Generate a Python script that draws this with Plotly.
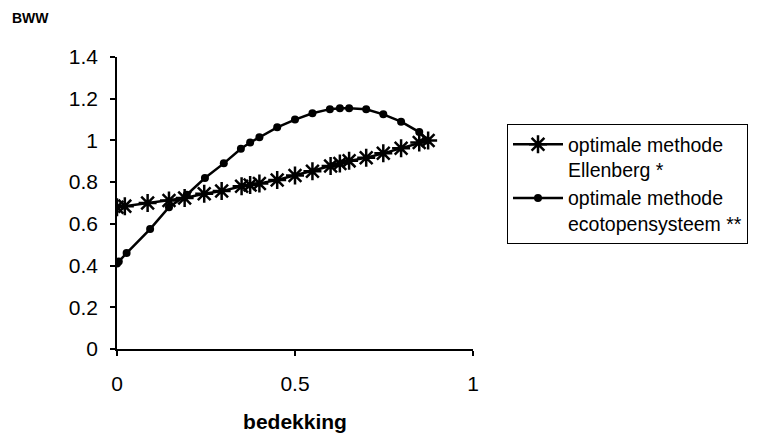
import plotly.graph_objects as go

# Data
x_ellenberg = [0.0, 0.022, 0.086, 0.146, 0.19, 0.245, 0.294, 0.35, 0.374, 0.40, 0.45,
               0.50, 0.549, 0.60, 0.626, 0.652, 0.70, 0.748, 0.798, 0.849, 0.874]
y_ellenberg = [0.68, 0.685, 0.70, 0.712, 0.724, 0.744, 0.757, 0.78, 0.786, 0.794, 0.81,
               0.832, 0.852, 0.877, 0.889, 0.902, 0.917, 0.938, 0.963, 0.99, 1.0]

x_ecotoop = [0.0, 0.005, 0.027, 0.093, 0.146, 0.196, 0.247, 0.30, 0.348, 0.374, 0.40,
             0.45, 0.50, 0.549, 0.598, 0.626, 0.652, 0.70, 0.748, 0.798, 0.849, 0.87]
y_ecotoop = [0.41, 0.42, 0.46, 0.575, 0.68, 0.74, 0.82, 0.89, 0.96, 0.99, 1.015,
             1.063, 1.10, 1.13, 1.15, 1.154, 1.154, 1.149, 1.125, 1.09, 1.04, 1.0]

x_ticks = [0, 0.5, 1]
y_ticks = [0, 0.2, 0.4, 0.6, 0.8, 1, 1.2, 1.4]

FONT = "Liberation Sans, Arial, sans-serif"

fig = go.Figure()
fig.add_trace(go.Scatter(
    x=x_ellenberg, y=y_ellenberg, mode="lines+markers",
    name="optimale methode<br>Ellenberg *",
    line=dict(color="black", width=2.5),
    marker=dict(symbol="asterisk-open", size=15, color="black",
                line=dict(color="black", width=2.5)),
))
fig.add_trace(go.Scatter(
    x=x_ecotoop, y=y_ecotoop, mode="lines+markers",
    name="optimale methode<br>ecotopensysteem **",
    line=dict(color="black", width=2.5),
    marker=dict(symbol="circle", size=8, color="black"),
))

fig.update_layout(
    width=759, height=433,
    margin=dict(l=117, r=286, t=57, b=84, autoexpand=False),
    paper_bgcolor="white", plot_bgcolor="white",
    font=dict(family=FONT, size=20, color="black"),
    showlegend=True,
    legend=dict(
        x=(507 - 117) / 356, y=(349 - 124) / 292, xanchor="left", yanchor="top",
        bordercolor="black", borderwidth=1,
        font=dict(family=FONT, size=19.5, color="black"),
        tracegroupgap=0, itemwidth=50, valign="top",
    ),
    xaxis=dict(
        range=[0, 1], tickvals=x_ticks, ticktext=["0", "0.5", "1"],
        showgrid=False, zeroline=False, showline=True, linecolor="black",
        linewidth=1.5, ticks="outside", ticklen=5, tickcolor="black", tickwidth=1.5,
        tickfont=dict(family=FONT, size=21), ticklabelstandoff=10,
        automargin=False,
        title=dict(text="<b>bedekking</b>", font=dict(family=FONT, size=21), standoff=22),
    ),
    yaxis=dict(
        range=[0, 1.4], tickvals=y_ticks,
        ticktext=["0", "0.2", "0.4", "0.6", "0.8", "1", "1.2", "1.4"],
        showgrid=False, zeroline=False, showline=True, linecolor="black",
        linewidth=1.5, ticks="outside", ticklen=5, tickcolor="black", tickwidth=1.5,
        tickfont=dict(family=FONT, size=21), ticklabelstandoff=8,
        automargin=False,
    ),
    annotations=[dict(
        text="<b>BWW</b>", xref="paper", yref="paper", x=-107 / 356, y=1 + 39 / 292,
        xanchor="left", yanchor="middle", showarrow=False,
        font=dict(family=FONT, size=14, color="black"),
    )],
)

fig.write_html("out.html")
